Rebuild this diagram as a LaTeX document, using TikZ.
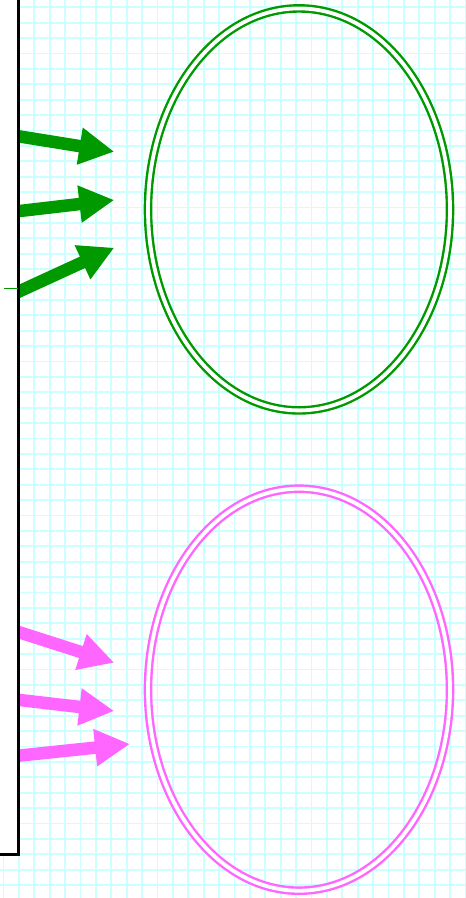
\documentclass[tikz,border=0pt]{standalone}
\usetikzlibrary{arrows.meta,shapes.geometric}
\definecolor{gridc}{RGB}{204,255,255}
\definecolor{grn}{RGB}{0,153,0}
\definecolor{mag}{RGB}{255,102,255}
\begin{document}
\begin{tikzpicture}[x=1pt,y=-1pt,
  gridline/.style={draw=gridc,line width=1.9pt},
  bigarrow/.style={line width=12.5pt,-{Triangle[length=35pt,width=35pt]}},
  ring/.style={double=white,double distance=3.8pt,line width=2.4pt},
  panel/.style={draw=black,fill=white,line width=2.2pt}]
\useasboundingbox (0,0) rectangle (466,898);
\fill[white] (0,0) rectangle (466,898);
\foreach \i in {0,...,30} \draw[gridline] ({3.5+15.4*\i},0) -- ++(0,898);
\foreach \j in {0,...,58} \draw[gridline] (0,{7.3+15.4*\j}) -- ++(466,0);
% ellipses
\node[draw=grn,ring,ellipse,minimum width=302pt,minimum height=402pt,inner sep=0pt] (ge) at (299,209.4) {};
\node[draw=mag,ring,ellipse,minimum width=302pt,minimum height=402pt,inner sep=0pt] (me) at (299,689.7) {};
% arrow coordinates
\coordinate (g1s) at (0,133.3);  \coordinate (g1e) at (114.3,151.7);
\coordinate (g2s) at (0,213.3);  \coordinate (g2e) at (114.3,200);
\coordinate (g3s) at (0,300.2);  \coordinate (g3e) at (114.3,247.7);
\coordinate (m1s) at (0,626.1);  \coordinate (m1e) at (114.3,662.7);
\coordinate (m2s) at (0,697.7);  \coordinate (m2e) at (114.3,711);
\coordinate (m3s) at (0,757.6);  \coordinate (m3e) at (130,744);
\draw[bigarrow,grn] (g1s) -- (g1e);
\draw[bigarrow,grn] (g2s) -- (g2e);
\draw[bigarrow,grn] (g3s) -- (g3e);
\draw[bigarrow,mag] (m1s) -- (m1e);
\draw[bigarrow,mag] (m2s) -- (m2e);
\draw[bigarrow,mag] (m3s) -- (m3e);
% left panel
\draw[panel] (-10,-10) rectangle (18.5,854.5);
\coordinate (t1) at (4,288); \coordinate (t2) at (18,288);
\draw[grn,line width=0.8pt] (t1) -- (t2);
\end{tikzpicture}
\end{document}
